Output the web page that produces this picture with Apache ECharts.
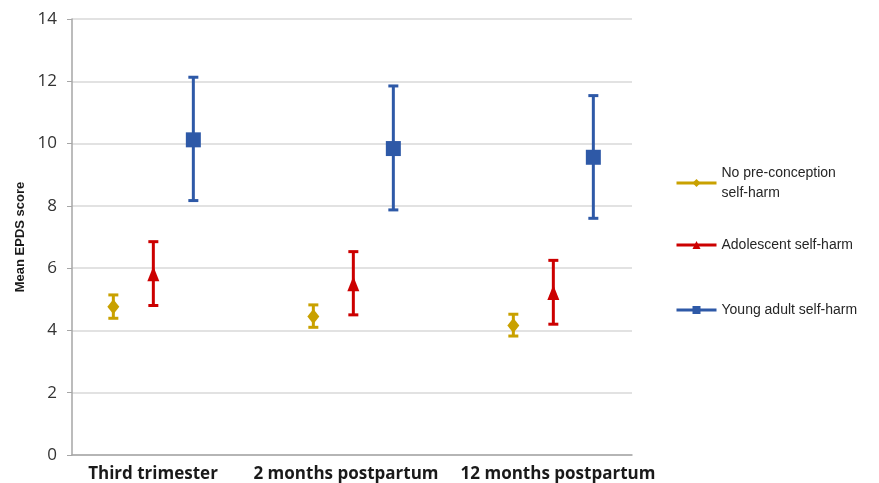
<!DOCTYPE html>
<html>
<head>
<meta charset="utf-8">
<script src="https://cdn.jsdelivr.net/npm/echarts@6/dist/echarts.min.js"></script>
<style>html,body{margin:0;padding:0;background:#fff;}#c{width:879px;height:483px;}</style>
</head>
<body>
<div id="c"></div>
<script>
const categories = ['Third trimester', '2 months postpartum', '12 months postpartum'];
const seriesNames = ['No pre-conception\nself-harm', 'Adolescent self-harm', 'Young adult self-harm'];
const noneMean = [4.76, 4.45, 4.16];
const noneLow = [4.39, 4.10, 3.82];
const noneHigh = [5.14, 4.82, 4.52];
const adolMean = [5.82, 5.50, 5.22];
const adolLow = [4.80, 4.50, 4.20];
const adolHigh = [6.85, 6.53, 6.25];
const youngMean = [10.12, 9.84, 9.56];
const youngLow = [8.17, 7.87, 7.60];
const youngHigh = [12.13, 11.85, 11.54];
const yTicks = [0, 2, 4, 6, 8, 10, 12, 14];

const colors = ['#C9A100', '#CC0000', '#2E59A7'];
const symbols = ['diamond', 'triangle', 'rect'];
const symbolSizes = [[12, 15], [12, 15], [15, 15]];
const offsets = [-0.2, 0, 0.2];
const labelPads = [[0, 0, 0, 0], [0, 14, 0, 0], [0, 0, 0, 10]];
const means = [noneMean, adolMean, youngMean];
const lows = [noneLow, adolLow, youngLow];
const highs = [noneHigh, adolHigh, youngHigh];

const chart = echarts.init(document.getElementById('c'), null, {renderer: 'canvas'});

const series = [];
for (let s = 0; s < 3; s++) {
  // markers
  series.push({
    type: 'line',
    name: seriesNames[s],
    xAxisIndex: 0, yAxisIndex: 0,
    data: categories.map((c, i) => [i + offsets[s], means[s][i]]),
    symbol: symbols[s],
    symbolSize: symbolSizes[s],
    showSymbol: true,
    lineStyle: {width: 0, opacity: 0, color: colors[s]},
    itemStyle: {color: colors[s], opacity: 1},
    color: colors[s],
    z: 3,
    animation: false
  });
  // error bars
  series.push({
    type: 'custom',
    name: 'err' + s,
    xAxisIndex: 0, yAxisIndex: 0,
    data: categories.map((c, i) => [i + offsets[s], lows[s][i], highs[s][i]]),
    encode: {x: 0, y: [1, 2]},
    renderItem: function (params, api) {
      const x = api.value(0);
      const lo = api.coord([x, api.value(1)]);
      const hi = api.coord([x, api.value(2)]);
      const hw = 5;
      const style = {stroke: colors[s], lineWidth: 3, fill: null};
      return {
        type: 'group',
        children: [
          {type: 'line', shape: {x1: lo[0], y1: lo[1], x2: hi[0], y2: hi[1]}, style: style},
          {type: 'line', shape: {x1: lo[0] - hw, y1: lo[1], x2: lo[0] + hw, y2: lo[1]}, style: style},
          {type: 'line', shape: {x1: hi[0] - hw, y1: hi[1], x2: hi[0] + hw, y2: hi[1]}, style: style}
        ]
      };
    },
    z: 2
  });
}

const legendBase = {
  orient: 'vertical',
  left: 675,
  padding: 0,
  itemWidth: 40,
  itemHeight: 10,
  itemGap: 0,
  textStyle: {fontFamily: 'Liberation Sans, Arial, sans-serif', fontSize: 14, color: '#262626', lineHeight: 20},
  lineStyle: {width: 3, opacity: 1},
  selectedMode: false
};

const option = {
  animation: false,
  backgroundColor: '#fff',
  grid: [
    {left: 72, right: 247, top: 19, bottom: 28},
    {left: 53, width: 600, top: 19, bottom: 28}
  ],
  xAxis: [
    {
      type: 'value', gridIndex: 0,
      min: -0.4067, max: 2.3933,
      axisLine: {show: true, onZero: false, lineStyle: {color: '#A6A6A6', width: 1.5}},
      axisTick: {show: false}, axisLabel: {show: false}, splitLine: {show: false}
    },
    {
      type: 'category', gridIndex: 1,
      data: categories.map((c, i) => ({value: c, textStyle: {padding: labelPads[i]}})),
      axisLine: {show: false}, axisTick: {show: false}, splitLine: {show: false},
      axisLabel: {interval: 0, fontFamily: 'Open Sans, sans-serif', fontWeight: 'bold', fontSize: 17, color: '#1a1a1a', margin: 11}
    }
  ],
  yAxis: [
    {
      type: 'value', gridIndex: 0, min: 0, max: 14, interval: 2,
      name: 'Mean EPDS score', nameLocation: 'middle', nameGap: 45, nameRotate: 90,
      nameTextStyle: {fontFamily: 'Liberation Sans, Arial, sans-serif', fontWeight: 'bold', fontSize: 13, color: '#1a1a1a'},
      axisLine: {show: true, onZero: false, lineStyle: {color: '#A6A6A6', width: 1.5}},
      axisTick: {show: true, inside: false, length: 5, lineStyle: {color: '#A6A6A6'}},
      axisLabel: {fontFamily: 'Open Sans, sans-serif', fontSize: 17, color: '#333', margin: 15,
        formatter: v => (yTicks.indexOf(v) >= 0 ? String(v) : '')},
      splitLine: {show: true, lineStyle: {color: '#D9D9D9', width: 1.5}}
    },
    {
      type: 'value', gridIndex: 1, min: 0, max: 14, show: false
    }
  ],
  legend: [
    Object.assign({}, legendBase, {top: 153, data: [{name: seriesNames[0], textStyle: {padding: [20, 0, 0, 0]}}]}),
    Object.assign({}, legendBase, {top: 235, data: [seriesNames[1]]}),
    Object.assign({}, legendBase, {top: 300, data: [seriesNames[2]]})
  ],
  series: series
};
chart.setOption(option);
</script>
</body>
</html>
